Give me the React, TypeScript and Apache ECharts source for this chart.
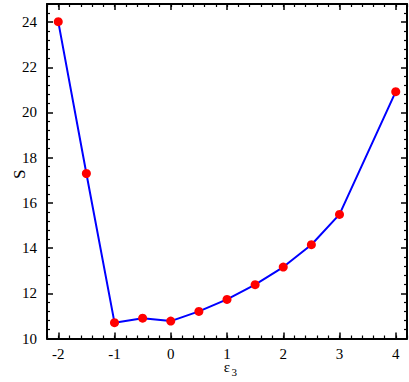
import React, { useEffect, useRef } from "react";
import * as echarts from "echarts";

const xValues = [-2, -1.5, -1, -0.5, 0, 0.5, 1, 1.5, 2, 2.5, 3, 4];
const sValues = [24.02, 17.3, 10.7, 10.9, 10.77, 11.2, 11.73, 12.38, 13.16, 14.15, 15.49, 20.92];
const xTicks = [-2, -1, 0, 1, 2, 3, 4];
const yTicks = [10, 12, 14, 16, 18, 20, 22, 24];

const X_MIN = -2.2;
const X_MAX = 4.2;
const Y_MIN = 10;
const Y_MAX = 24.8;

const FONT = "'Liberation Serif', serif";

function axisLineOn() {
  return { show: true, onZero: false, lineStyle: { color: "#000", width: 2 } };
}
function axisLineOff() {
  return { show: false, onZero: false };
}
function majorTick(vals: number[]) {
  return { show: true, inside: true, length: 6, customValues: vals.slice(), lineStyle: { color: "#000", width: 1.5 } };
}
function minorTick() {
  return { show: true, inside: true, length: 3, lineStyle: { color: "#000", width: 1.2 } };
}
function yAxisOn(position: string) {
  return {
    type: "value",
    position,
    min: Y_MIN,
    max: Y_MAX,
    interval: 2,
    splitLine: { show: false },
    axisLabel: { show: false },
    axisLine: axisLineOn(),
    axisTick: { show: true, inside: true, length: 6, lineStyle: { color: "#000", width: 1.5 } },
    minorTick: { show: true, splitNumber: 5, length: 3, lineStyle: { color: "#000", width: 1.2 } },
    minorSplitLine: { show: false },
  };
}

export default function App() {
  const ref = useRef<HTMLDivElement>(null);
  useEffect(() => {
    if (!ref.current) return;
    const chart = echarts.init(ref.current, undefined, { renderer: "svg" });
    const xBase = () => ({ type: "value", min: X_MIN, max: X_MAX, splitLine: { show: false }, axisLabel: { show: false } });

    chart.setOption({
      animation: false,
      backgroundColor: "#fff",
      grid: { left: 47, right: 2, top: 4, bottom: 43.5 },
      xAxis: [
        { ...xBase(), position: "bottom", axisLine: axisLineOn(), axisTick: majorTick(xTicks) },
        { ...xBase(), position: "bottom", interval: 0.2, axisLine: axisLineOff(), axisTick: minorTick() },
        { ...xBase(), position: "top", axisLine: axisLineOn(), axisTick: majorTick(xTicks) },
        { ...xBase(), position: "top", interval: 0.2, axisLine: axisLineOff(), axisTick: minorTick() },
      ],
      yAxis: [yAxisOn("left"), yAxisOn("right")],
      series: [
        {
          type: "line",
          xAxisIndex: 0,
          yAxisIndex: 0,
          data: xValues.map((x, i) => [x, sValues[i]]),
          lineStyle: { color: "#0000ff", width: 2 },
          symbol: "circle",
          symbolSize: 9,
          itemStyle: { color: "#ff0000" },
          z: 5,
        },
      ],
    });

    try {
      const px = (v: number) => chart.convertToPixel({ xAxisIndex: 0 }, v) as number;
      const py = (v: number) => chart.convertToPixel({ yAxisIndex: 0 }, v) as number;
      const left = px(X_MIN);
      const right = px(X_MAX);
      const bottom = py(Y_MIN);
      const top = py(Y_MAX);
      const graphics: any[] = [];
      xTicks.forEach((v) => {
        graphics.push({
          type: "text",
          x: px(v),
          y: bottom + 15,
          silent: true,
          style: { text: String(v), fontFamily: FONT, fontSize: 15, fill: "#000", align: "center", verticalAlign: "middle" },
        });
      });
      yTicks.forEach((v) => {
        graphics.push({
          type: "text",
          x: left - 10,
          y: py(v),
          silent: true,
          style: { text: String(v), fontFamily: FONT, fontSize: 15, fill: "#000", align: "right", verticalAlign: "middle" },
        });
      });
      const cx = (left + right) / 2;
      graphics.push({
        type: "text",
        x: cx,
        y: bottom + 28,
        silent: true,
        style: { text: "ε", fontFamily: FONT, fontSize: 15, fill: "#000", align: "center", verticalAlign: "middle" },
      });
      graphics.push({
        type: "text",
        x: cx + 4.5,
        y: bottom + 33,
        silent: true,
        style: { text: "3", fontFamily: FONT, fontSize: 11, fill: "#000", align: "left", verticalAlign: "middle" },
      });
      graphics.push({
        type: "text",
        x: left - 28,
        y: (top + bottom) / 2 + 3,
        rotation: Math.PI / 2,
        silent: true,
        style: { text: "S", fontFamily: FONT, fontSize: 17, fill: "#000", align: "center", verticalAlign: "middle" },
      });
      chart.setOption({ graphic: graphics });
    } catch (e) {
      // ignore
    }
    return () => chart.dispose();
  }, []);
  return (
    <div ref={ref} style={{ position: "fixed", left: 0, top: 0, width: 409, height: 382, background: "#fff" }} />
  );
}
